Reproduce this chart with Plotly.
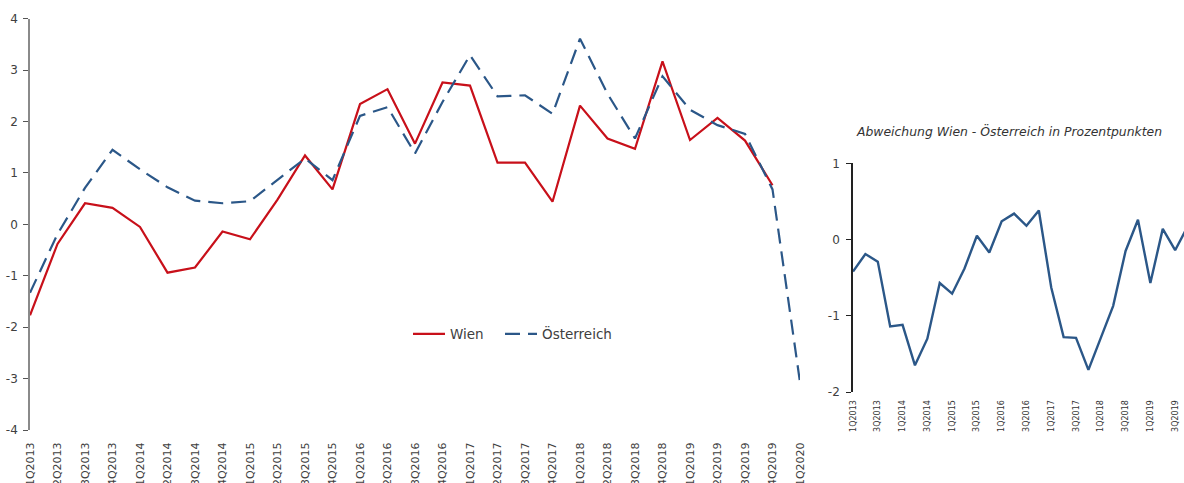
import plotly.graph_objects as go

W, H = 1184, 483

quarters = ["1Q2013", "2Q2013", "3Q2013", "4Q2013",
            "1Q2014", "2Q2014", "3Q2014", "4Q2014",
            "1Q2015", "2Q2015", "3Q2015", "4Q2015",
            "1Q2016", "2Q2016", "3Q2016", "4Q2016",
            "1Q2017", "2Q2017", "3Q2017", "4Q2017",
            "1Q2018", "2Q2018", "3Q2018", "4Q2018",
            "1Q2019", "2Q2019", "3Q2019", "4Q2019",
            "1Q2020"]

wien = [-1.77, -0.38, 0.41, 0.32, -0.05, -0.94, -0.84, -0.14,
        -0.29, 0.48, 1.34, 0.68, 2.34, 2.63, 1.57, 2.76,
        2.70, 1.20, 1.20, 0.44, 2.31, 1.67, 1.47, 3.17,
        1.64, 2.07, 1.63, 0.76, None]

oesterreich = [-1.33, -0.19, 0.71, 1.45, 1.07, 0.72, 0.46, 0.41,
               0.45, 0.86, 1.28, 0.86, 2.11, 2.28, 1.38, 2.38,
               3.29, 2.49, 2.51, 2.15, 3.61, 2.54, 1.67, 2.88,
               2.23, 1.93, 1.76, 0.68, -3.07]

abweichung_quarters = quarters[:28]
abweichung = [-0.42, -0.19, -0.29, -1.14, -1.12, -1.65, -1.30, -0.57,
              -0.71, -0.38, 0.05, -0.17, 0.24, 0.34, 0.18, 0.38,
              -0.63, -1.28, -1.29, -1.71, -1.29, -0.87, -0.15, 0.26,
              -0.57, 0.14, -0.14, 0.17]

main_yticks = [-4, -3, -2, -1, 0, 1, 2, 3, 4]
side_yticks = [-2, -1, 0, 1]

RED = "#C8101A"
BLUE = "#2B5788"
TXT = "#404040"
FONT = "DejaVu Sans"

xi = list(range(len(quarters)))
xi2 = list(range(len(abweichung_quarters)))

fig = go.Figure()
fig.add_trace(go.Scatter(x=xi, y=wien, name="Wien", mode="lines",
                         line=dict(color=RED, width=2.2),
                         legend="legend", xaxis="x", yaxis="y"))
fig.add_trace(go.Scatter(x=xi, y=oesterreich, name="Österreich", mode="lines",
                         line=dict(color=BLUE, width=2.2, dash="15px,8px"),
                         legend="legend2", xaxis="x", yaxis="y"))
fig.add_trace(go.Scatter(x=xi2, y=abweichung, name="Abweichung", mode="lines",
                         line=dict(color=BLUE, width=2.4),
                         showlegend=False, xaxis="x2", yaxis="y2"))

# main panel geometry
xd = [30 / W, 800 / W]
yd = [1 - 430 / H, 1 - 18.7 / H]
ymin, ymax = -4, 4
zero_pos = yd[0] + (0 - ymin) / (ymax - ymin) * (yd[1] - yd[0])

# right panel geometry
xd2 = [853 / W, 1.0]
yd2 = [1 - 392 / H, 1 - 163.3 / H]
y2min, y2max = -2, 1
zero_pos2 = yd2[0] + (0 - y2min) / (y2max - y2min) * (yd2[1] - yd2[0])
step2 = 12.39
x2max = (W - 853) / step2

legend_style = dict(orientation="h", xanchor="left", yanchor="middle",
                    y=1 - 334 / H,
                    font=dict(size=13.5, color=TXT, family=FONT),
                    bgcolor="rgba(0,0,0,0)", itemwidth=32)

fig.update_layout(
    width=W, height=H,
    margin=dict(l=0, r=0, t=0, b=0),
    paper_bgcolor="white", plot_bgcolor="white",
    font=dict(family=FONT, color=TXT),
    showlegend=True,
    legend=dict(x=408 / W, **legend_style),
    legend2=dict(x=500 / W, **legend_style),
    xaxis=dict(domain=xd, range=[0, len(quarters) - 1], anchor="y",
               tickmode="array", tickvals=xi, ticktext=quarters,
               tickangle=-90, tickfont=dict(size=11, color=TXT),
               ticks="outside", ticklen=7, tickcolor="rgba(0,0,0,0)",
               showline=False, showgrid=False, zeroline=False,
               automargin=False),
    xaxis3=dict(overlaying="x", anchor="free", position=zero_pos,
                range=[0, len(quarters) - 1], tickmode="array", tickvals=xi,
                showticklabels=False, ticks="outside", ticklen=5,
                tickcolor="#555555", tickwidth=1.2,
                showline=True, linecolor="#8a8a8a", linewidth=1.6,
                showgrid=False, zeroline=False, automargin=False),
    yaxis=dict(domain=yd, range=[ymin, ymax], anchor="x",
               tickmode="array", tickvals=main_yticks,
               ticktext=[str(v) for v in main_yticks],
               tickfont=dict(size=12, color=TXT),
               ticks="outside", ticklen=5, tickcolor="#555555",
               ticklabelstandoff=3,
               showline=True, linecolor="#8a8a8a", linewidth=1.6,
               showgrid=False, zeroline=False, automargin=False),
    xaxis2=dict(domain=xd2, range=[0, x2max], anchor="y2",
                tickmode="array", tickvals=xi2[::2],
                ticktext=abweichung_quarters[::2],
                tickangle=-90, tickfont=dict(size=8, color="#333333"),
                ticks="outside", ticklen=4, tickcolor="rgba(0,0,0,0)",
                showline=False, showgrid=False, zeroline=False,
                automargin=False),
    xaxis4=dict(overlaying="x2", anchor="free", position=zero_pos2,
                range=[0, x2max], tickmode="array", tickvals=xi2,
                showticklabels=False, ticks="outside", ticklen=4,
                tickcolor="#333333", tickwidth=1.2,
                showline=True, linecolor="#555555", linewidth=1.6,
                showgrid=False, zeroline=False, automargin=False),
    yaxis2=dict(domain=yd2, range=[y2min, y2max], anchor="x2",
                tickmode="array", tickvals=side_yticks,
                ticktext=[str(v) for v in side_yticks],
                tickfont=dict(size=12, color=TXT),
                ticks="outside", ticklen=5, tickcolor="#222222",
                ticklabelstandoff=4,
                showline=True, linecolor="#222222", linewidth=1.6,
                showgrid=False, zeroline=False, automargin=False),
    annotations=[dict(text="<i>Abweichung Wien - Österreich in Prozentpunkten</i>",
                      x=(853 + 1165) / 2 / W, y=1 - 131 / H,
                      xref="paper", yref="paper", xanchor="center",
                      yanchor="middle", showarrow=False,
                      font=dict(size=12.4, color="#333333", family=FONT))],
)

fig.write_html("out.html", config={"displayModeBar": False},
               post_script="document.body.style.margin='0';document.body.style.overflow='hidden';")
